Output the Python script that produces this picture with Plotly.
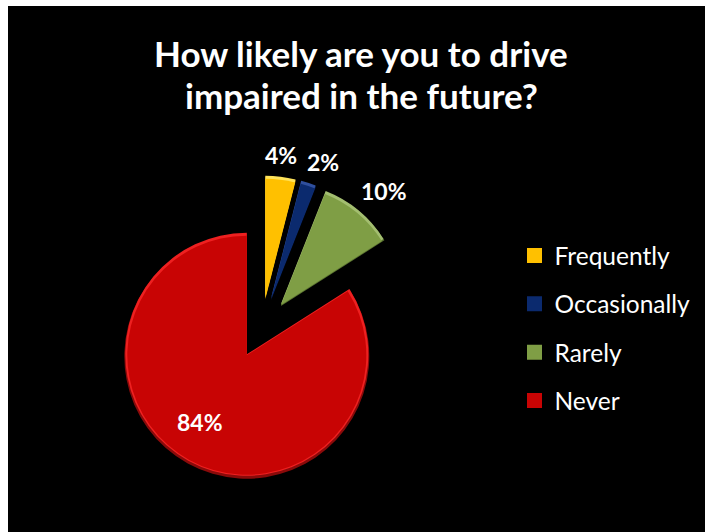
import plotly.graph_objects as go

categories = ["Frequently", "Occasionally", "Rarely", "Never"]
values = [4, 2, 10, 84]
main_colors = ["#FFC000", "#0B2A6E", "#7F9E45", "#C80404"]
light_colors = ["#FFE35A", "#2F4F9E", "#A3BE70", "#EE2020"]
dark_colors = ["#B98A00", "#061A48", "#5A7230", "#8A0A0A"]
title_lines = ["How likely are you to drive", "impaired in the future?"]

W, H = 705, 532
CX, CY, R, OFFSET = 261.5, 328.5, 123.5, 30.5


def pie_layer(colors, radius, dx=0, dy=0):
    half = radius + OFFSET
    return go.Pie(
        labels=categories, values=values, sort=False, direction="clockwise",
        rotation=0, pull=[OFFSET / radius] * len(values), textinfo="none",
        hoverinfo="skip", showlegend=False,
        marker=dict(colors=colors, line=dict(width=0)),
        domain=dict(
            x=[(CX + dx - half) / W, (CX + dx + half) / W],
            y=[1 - (CY + dy + half) / H, 1 - (CY + dy - half) / H],
        ),
    )


fig = go.Figure()
fig.add_trace(pie_layer(dark_colors, R - 1, dy=1))
fig.add_trace(pie_layer(light_colors, R - 2, dy=-1))
fig.add_trace(pie_layer(main_colors, R - 4))

for name, color in zip(categories, main_colors):
    fig.add_trace(go.Scatter(
        x=[None], y=[None], mode="markers", name=name, legendgroup=name,
        marker=dict(symbol="square", size=15, color=color),
    ))

label_pos = [(281, 155), (323, 162), (384, 191), (200, 422)]
annotations = [
    dict(text=f"{v}%", x=px / W, y=1 - py / H, xref="paper", yref="paper",
         showarrow=False, xanchor="center", yanchor="middle",
         font=dict(family="Lato", size=23, color="white", weight="bold"))
    for v, (px, py) in zip(values, label_pos)
]
for line, py in zip(title_lines, (53, 95)):
    annotations.append(dict(
        text=line, x=361 / W, y=1 - py / H, xref="paper", yref="paper",
        showarrow=False, xanchor="center", yanchor="middle",
        font=dict(family="Lato", size=35, color="white", weight="bold"),
    ))

fig.update_layout(
    width=W, height=H, margin=dict(l=0, r=0, t=0, b=0),
    paper_bgcolor="white", plot_bgcolor="rgba(0,0,0,0)",
    xaxis=dict(visible=False), yaxis=dict(visible=False),
    shapes=[dict(type="rect", xref="paper", yref="paper", x0=8 / W, x1=1,
                 y0=0, y1=1 - 6 / H, fillcolor="black",
                 line=dict(width=0), layer="below")],
    annotations=annotations,
    legend=dict(x=514.5 / W, y=1 - 233 / H, xanchor="left", yanchor="top",
                font=dict(family="Lato", size=24.5, color="white"),
                bgcolor="rgba(0,0,0,0)", tracegroupgap=13.5,
                itemsizing="trace", itemclick=False, itemdoubleclick=False),
)
fig.write_html("out.html", config=dict(displayModeBar=False),
               post_script="document.body.style.margin='0';")
